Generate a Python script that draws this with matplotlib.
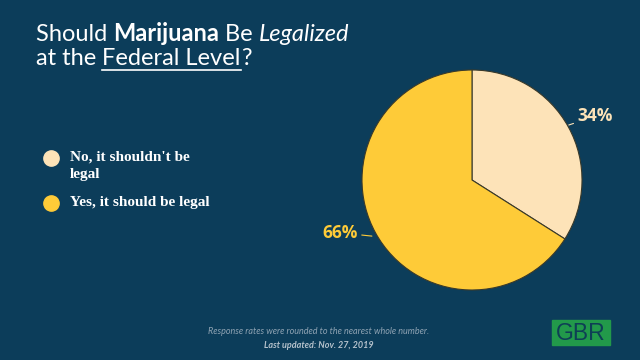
import matplotlib
matplotlib.use('Agg')
import matplotlib.pyplot as plt
from matplotlib.patches import Rectangle

# 数据
labels = ["No, it shouldn't be\nlegal", "Yes, it should be legal"]
values = [34, 66]
pct_text = ['34%', '66%']
colors = ['#fde3b8', '#fecb38']
bg = '#0c3d5a'

W, H = 640, 360
fig = plt.figure(figsize=(6.4, 3.6), dpi=100, facecolor=bg)
r = fig.canvas.get_renderer()

# 标题（分段排版）
def seq(parts, x0, y0):
    x = x0
    spans = []
    for txt, kw in parts:
        t = fig.text(x / W, 1 - y0 / H, txt, color='white', fontsize=17,
                     family='Lato', va='baseline', ha='left', **kw)
        bb = t.get_window_extent(r)
        spans.append((x, x + bb.width))
        x += bb.width
    return spans

seq([('Should ', {}), ('Marijuana', {'weight': 'bold'}), (' Be ', {}),
     ('Legalized', {'style': 'italic'})], 36, 41)
sp = seq([('at the ', {}), ('Federal Level', {}), ('?', {})], 36, 65)
x1, x2 = sp[1]
fig.add_artist(plt.Line2D([x1 / W, x2 / W], [1 - 69.5 / H, 1 - 69.5 / H],
                          color='white', lw=1.2))

# 饼图
ax = fig.add_axes([(472 - 110) / W, 1 - 290 / H, 220 / W, 220 / H])
ax.set_facecolor(bg)
wedges, _ = ax.pie(values, colors=colors, startangle=90, counterclock=False,
                   wedgeprops=dict(edgecolor='#3a3a2a', linewidth=0.8))
ax.set_aspect('equal')
ax.set_xlim(-1, 1)
ax.set_ylim(-1, 1)

ax.annotate(pct_text[0], xy=(0.88, 0.5), xytext=(0.96, 0.58), color=colors[0],
            fontsize=12.5, weight='bold', family='Open Sans', va='center', ha='left',
            arrowprops=dict(arrowstyle='-', color=colors[0], lw=0.8,
                            shrinkA=1, shrinkB=0),
            annotation_clip=False)
ax.annotate(pct_text[1], xy=(-0.91, -0.51), xytext=(-1.04, -0.48), color=colors[1],
            fontsize=12.5, weight='bold', family='Open Sans', va='center', ha='right',
            arrowprops=dict(arrowstyle='-', color=colors[1], lw=0.8,
                            shrinkA=1, shrinkB=0),
            annotation_clip=False)

# 图例
leg_y = [158, 203]
for lab, c, y in zip(labels, colors, leg_y):
    fig.add_artist(plt.Line2D([51 / W], [1 - y / H], marker='o', markersize=11,
                              color=c, linestyle='none'))
    fig.text(70 / W, 1 - (y - 7) / H, lab, color='white', fontsize=11,
             weight='bold', family='Liberation Serif', va='top', ha='left',
             linespacing=1.35)

# 脚注
fig.text(319 / W, 1 - 332 / H, 'Response rates were rounded to the nearest whole number.',
         color='#8fa3b3', fontsize=6.5, style='italic', family='Lato',
         ha='center', va='center')
fig.text(319 / W, 1 - 345 / H, 'Last updated: Nov. 27, 2019',
         color='#b5c2cc', fontsize=6.5, style='italic', weight='bold', family='Lato',
         ha='center', va='center')

fig.add_artist(Rectangle((552 / W, 1 - 345 / H), 58 / W, 25 / H,
                         transform=fig.transFigure, color='#22994a'))
fig.text(581 / W, 1 - 333 / H, 'GBR', color='#0e3f55', fontsize=16.5,
         family='Liberation Sans', ha='center', va='center')

fig.savefig('out.png', dpi=100, facecolor=bg)
